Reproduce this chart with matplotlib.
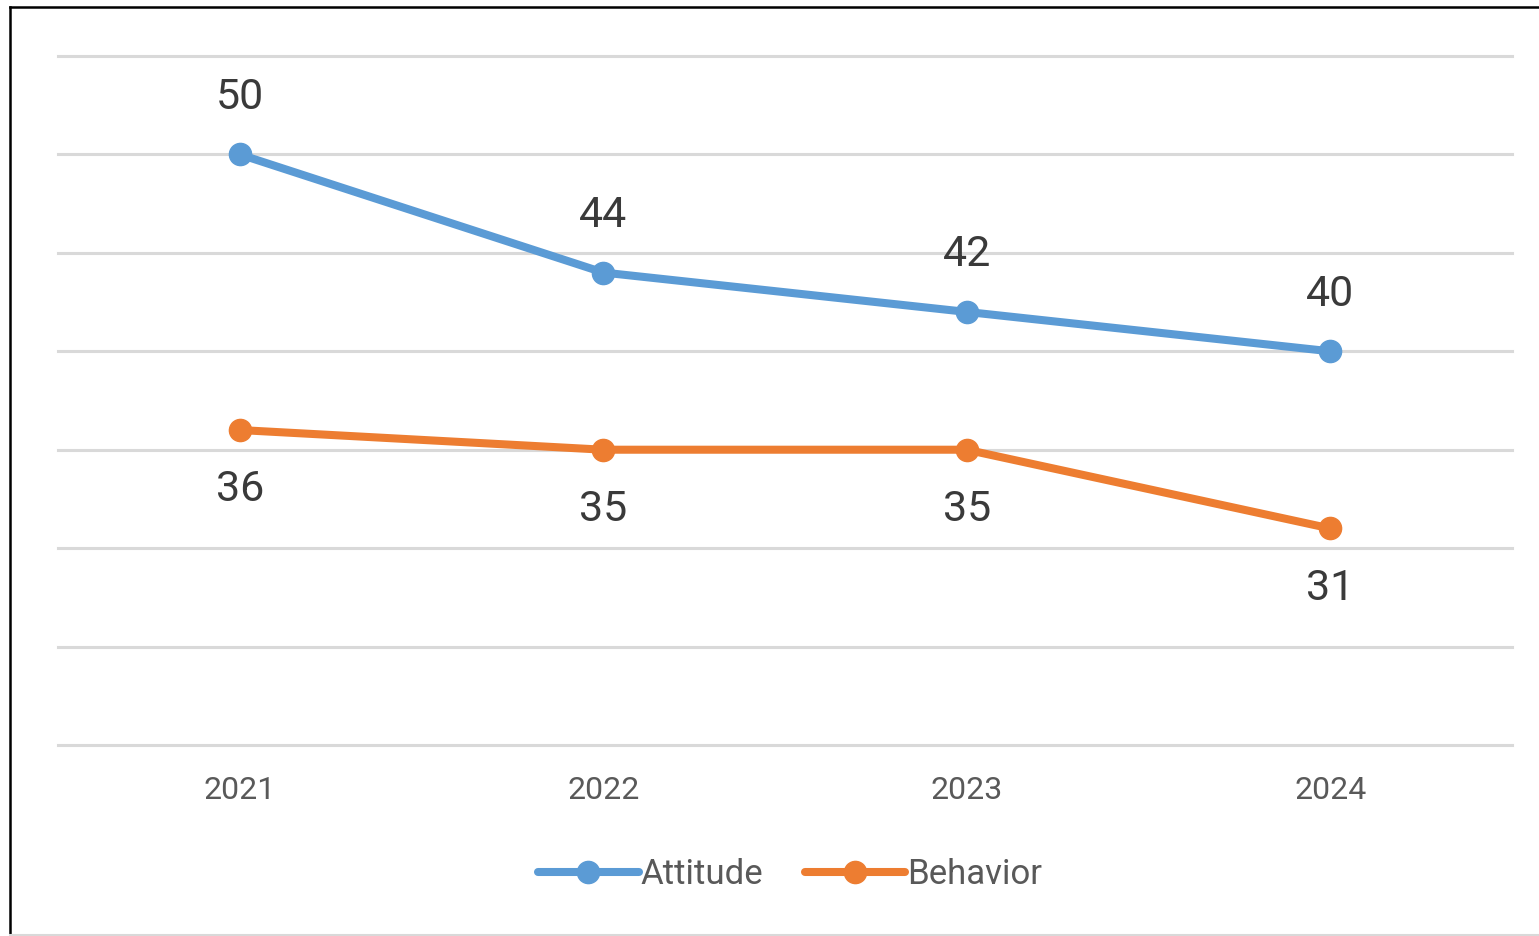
import matplotlib
matplotlib.use("Agg")
import matplotlib.pyplot as plt
from matplotlib.lines import Line2D

plt.rcParams['font.family'] = ['Roboto', 'DejaVu Sans']

years = ['2021', '2022', '2023', '2024']
attitude = [50, 44, 42, 40]
behavior = [36, 35, 35, 31]

blue = '#5B9BD5'
orange = '#ED7D31'

fig = plt.figure(figsize=(15.39, 9.36), dpi=100)
ax = fig.add_axes([58/1539, 1-745/936, (1512-58)/1539, (745-56)/936])

x = range(len(years))
ax.plot(x, attitude, color=blue, lw=5.8, marker='o', ms=16, label='Attitude',
        solid_capstyle='round', zorder=3)
ax.plot(x, behavior, color=orange, lw=5.8, marker='o', ms=16, label='Behavior',
        solid_capstyle='round', zorder=3)

for i, v in enumerate(attitude):
    ax.annotate(str(v), (i, v), xytext=(0, 41), textcoords='offset points',
                ha='center', va='center', fontsize=31, color='#3A3A3A')
for i, v in enumerate(behavior):
    ax.annotate(str(v), (i, v), xytext=(0, -43), textcoords='offset points',
                ha='center', va='center', fontsize=31, color='#3A3A3A')

ax.set_xlim(-0.5, 3.5)
ax.set_ylim(20, 55)
ax.set_yticks(range(20, 56, 5))
ax.yaxis.grid(True, color='#D9D9D9', lw=2.2)
for gl in ax.get_ygridlines():
    gl.set_clip_on(False)
ax.set_yticklabels([])
ax.tick_params(axis='y', length=0)
ax.set_xticks(list(x))
ax.set_xticklabels(years, fontsize=23, color='#595959')
ax.tick_params(axis='x', length=0, pad=22)
for s in ax.spines.values():
    s.set_visible(False)

fig.legend(loc='center', bbox_to_anchor=(790/1539, 1-875/936), ncol=2, frameon=False,
           fontsize=25, handlelength=2.9, handletextpad=0.05, columnspacing=1.2,
           labelcolor='#595959')

# outer frame
fig.add_artist(Line2D([10/1539, 10/1539], [0, 1-7/936], color='black', lw=1.8,
                      transform=fig.transFigure))
fig.add_artist(Line2D([10/1539, 1], [1-7/936, 1-7/936], color='black', lw=1.8,
                      transform=fig.transFigure))
fig.add_artist(Line2D([10/1539, 1], [1/936, 1/936], color='#D9D9D9', lw=1.5,
                      transform=fig.transFigure))

fig.savefig('out.png', dpi=100, facecolor='white')
